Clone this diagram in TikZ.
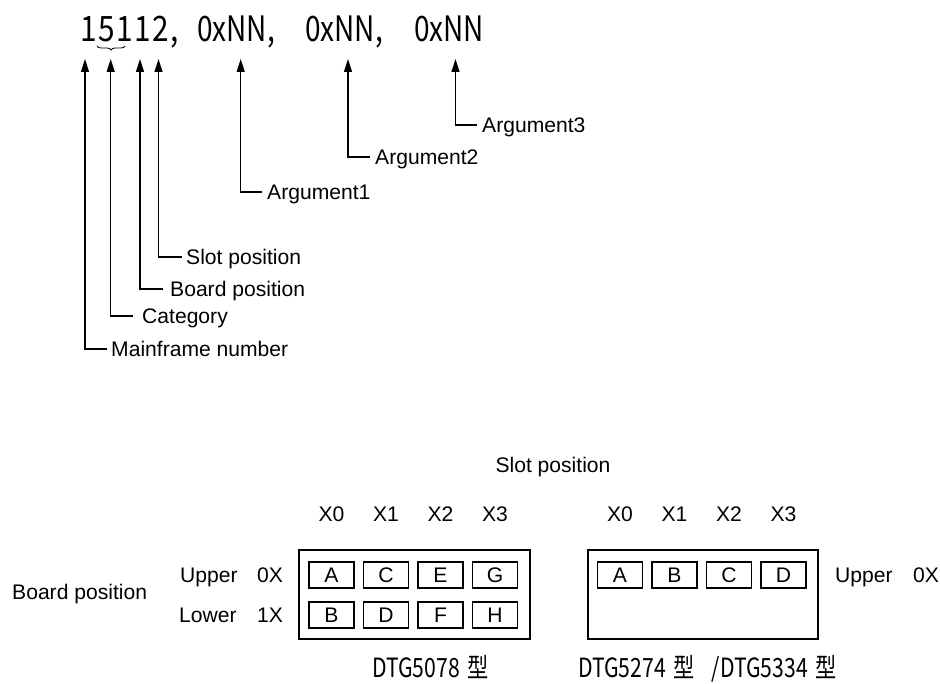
\documentclass[tikz,border=0pt]{standalone}
\usepackage{fontspec}
\setmainfont{Liberation Sans}
\setsansfont{Liberation Sans}
\newfontfamily\gothicnum{Noto Sans CJK JP}[FakeStretch=0.85,LetterSpace=4.5]
\newfontfamily\gothic{Noto Sans CJK JP}[FakeStretch=0.8]
\usetikzlibrary{arrows.meta,decorations.pathreplacing}
\begin{document}
\begin{tikzpicture}[x=1pt,y=-1pt,
  lbl/.style={font=\fontsize{21.1}{24}\selectfont, inner sep=0pt, anchor=base west},
  code/.style={font=\gothic\fontsize{35}{38}\selectfont, inner sep=0pt, anchor=base west},
  capt/.style={font=\gothic\fontsize{26.5}{30}\selectfont, inner sep=0pt, anchor=base west},
  lead/.style={line width=1.3pt, {Triangle[length=13pt,width=8pt]}-},
  frame/.style={draw, line width=2pt, minimum height=89pt, inner sep=0pt, anchor=north west},
  slotbox/.style={draw, line width=1.8pt, minimum width=45pt, minimum height=26pt, inner sep=0pt, font=\fontsize{21.1}{24}\selectfont},
  xlab/.style={font=\fontsize{21.1}{24}\selectfont, inner sep=0pt}]
\useasboundingbox (0,0) rectangle (940,684);

% ---- command line ----
\node[code, font=\gothicnum\fontsize{35}{38}\selectfont] (t1) at (80,42) {15112,};
\node[code] (t2) at (197,42) {0xNN,};
\node[code] (t3) at (305,42) {0xNN,};
\node[code] (t4) at (414,42) {0xNN};
\draw[line width=0.8pt, decorate, decoration={brace, mirror, amplitude=4pt}] (97,46) -- (125,46);

% arrow tips
\coordinate (a1) at (85,59);
\coordinate (a2) at (110.7,59);
\coordinate (a3) at (140,59);
\coordinate (a4) at (158.5,59);
\coordinate (a5) at (240.7,59);
\coordinate (a6) at (348,59);
\coordinate (a7) at (455.5,59);

% stub ends
\coordinate (e1) at (107,349);
\coordinate (e2) at (133,316);
\coordinate (e3) at (163,289);
\coordinate (e4) at (182,257);
\coordinate (e5) at (262,192);
\coordinate (e6) at (370,157);
\coordinate (e7) at (477,125);

\node[lbl] (l1) at (111,356.5) {Mainframe number};
\node[lbl] (l2) at (142,323.5) {Category};
\node[lbl] (l3) at (170,296.5) {Board position};
\node[lbl] (l4) at (186,264.5) {Slot position};
\node[lbl] (l5) at (267,199.5) {Argument1};
\node[lbl] (l6) at (375,164.5) {Argument2};
\node[lbl] (l7) at (482,132.5) {Argument3};

\foreach \i in {1,...,7} \draw[lead] (a\i) |- (e\i);

% ---- slot diagram ----
\node[lbl, anchor=base] (sp) at (553,472.5) {Slot position};

\node[frame, minimum width=231pt] (F1) at (298,549) {};
\node[frame, minimum width=230pt] (F2) at (587,549) {};

\foreach \n/\x/\t/\b in {1/331.5/A/B, 2/386/C/D, 3/440.5/E/F, 4/495/G/H}{
  \node[slotbox] (U\n) at (\x,575) {\t};
  \node[slotbox] (D\n) at (\x,615) {\b};
  \node[xlab] (X\n) at (\x,514) {X\the\numexpr\n-1\relax};
}
\foreach \n/\x/\t in {1/620/A, 2/674.5/B, 3/729/C, 4/783.5/D}{
  \node[slotbox] (R\n) at (\x,575) {\t};
  \node[xlab] (RX\n) at (\x,514) {X\the\numexpr\n-1\relax};
}

\node[lbl] (bp) at (12,599.5) {Board position};
\node[lbl] (up) at (180,582.5) {Upper};
\node[lbl] (upx) at (257,582.5) {0X};
\node[lbl] (lo) at (179,622.5) {Lower};
\node[lbl] (lox) at (257,622.5) {1X};
\node[lbl] (rup) at (835,582.5) {Upper};
\node[lbl] (rupx) at (913,582.5) {0X};

\node[capt] (c1) at (372,677) {DTG5078\hspace{3pt} 型};
\node[capt] (c2) at (578,677) {DTG5274\hspace{3pt} 型\hspace{12pt} /DTG5334\hspace{3pt} 型};
\end{tikzpicture}
\end{document}
